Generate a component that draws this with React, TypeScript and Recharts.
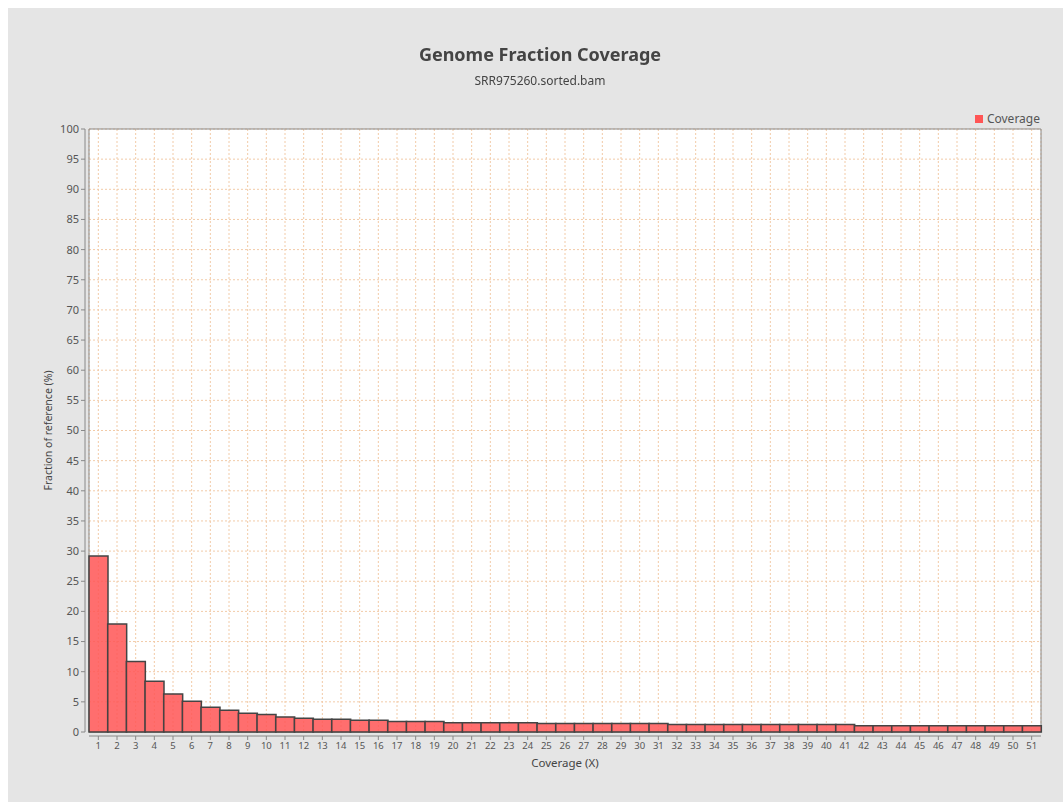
import { BarChart, Bar, XAxis, YAxis, CartesianGrid, Legend, ReferenceArea } from "recharts";

const COVERAGE_X = [
  "1", "2", "3", "4", "5", "6", "7", "8", "9", "10",
  "11", "12", "13", "14", "15", "16", "17", "18", "19", "20",
  "21", "22", "23", "24", "25", "26", "27", "28", "29", "30",
  "31", "32", "33", "34", "35", "36", "37", "38", "39", "40",
  "41", "42", "43", "44", "45", "46", "47", "48", "49", "50", "51",
];

// fraction of reference (%) per coverage depth
const FRACTION = [
  29.2, 17.9, 11.7, 8.4, 6.3, 5.1, 4.1, 3.6, 3.1, 2.9,
  2.5, 2.3, 2.1, 2.1, 1.95, 1.95, 1.75, 1.75, 1.75, 1.55,
  1.55, 1.55, 1.55, 1.55, 1.4, 1.4, 1.4, 1.4, 1.4, 1.4,
  1.4, 1.25, 1.25, 1.25, 1.25, 1.25, 1.25, 1.25, 1.25, 1.25,
  1.25, 1.05, 1.05, 1.05, 1.05, 1.05, 1.05, 1.05, 1.05, 1.05, 1.05,
];

const Y_TICKS = [0, 5, 10, 15, 20, 25, 30, 35, 40, 45, 50, 55, 60, 65, 70, 75, 80, 85, 90, 95, 100];

const FONT = '"Noto Sans", sans-serif';
const AXIS_GRAY = "#888888";
const TICK_TEXT = { fill: "#555555", fontSize: 11, fontFamily: FONT };

export default function App() {
  const data = COVERAGE_X.map((x, i) => ({ x, fraction: FRACTION[i] }));

  const legendFormatter = (value: string) => (
    <span style={{ color: "#555", fontSize: "12px" }}>{value}</span>
  );

  return (
    <div
      style={{
        position: "fixed",
        left: 8,
        top: 8,
        width: 1055,
        height: 794,
        background: "#e5e5e5",
        fontFamily: FONT,
      }}
    >
      <BarChart
        width={1055}
        height={794}
        data={data}
        barCategoryGap={0}
        barGap={0}
        margin={{ top: 121, right: 22, left: 0, bottom: 8 }}
      >
        <CartesianGrid
          fill="#ffffff"
          stroke="#f2cba8"
          strokeDasharray="2 2"
        />
        <XAxis
          dataKey="x"
          interval={0}
          height={62}
          tickSize={4}
          tickMargin={6}
          tick={{ ...TICK_TEXT, fontSize: 9.5 }}
          axisLine={{ stroke: AXIS_GRAY, transform: "translate(0,4)" }}
          tickLine={{ stroke: AXIS_GRAY, transform: "translate(0,4)" }}
          label={{
            value: "Coverage (X)",
            position: "center",
            fill: "#444",
            fontSize: 11.5,
            fontFamily: FONT,
          }}
        />
        <YAxis
          type="number"
          domain={[0, 100]}
          ticks={Y_TICKS}
          interval={0}
          width={81}
          tickSize={4}
          tickMargin={6}
          tick={TICK_TEXT}
          axisLine={{ stroke: AXIS_GRAY, transform: "translate(-4,0)" }}
          tickLine={{ stroke: AXIS_GRAY, transform: "translate(-4,0)" }}
          label={{
            value: "Fraction of reference (%)",
            angle: -90,
            position: "center",
            fill: "#444",
            fontSize: 10.5,
            fontFamily: FONT,
          }}
        />
        <Legend
          layout="horizontal"
          verticalAlign="middle"
          align="center"
          iconType="square"
          iconSize={8}
          formatter={legendFormatter}
          wrapperStyle={{ top: 98, right: 13, left: "auto", width: "auto" }}
        />
        <Bar
          dataKey="fraction"
          name="Coverage"
          fill="#ff5555"
          fillOpacity={0.85}
          stroke="#444444"
          strokeWidth={1.5}
          isAnimationActive={false}
        />
        <ReferenceArea y1={0} y2={100} fill="none" stroke={AXIS_GRAY} strokeWidth={1} />
      </BarChart>
      <div
        style={{
          position: "absolute",
          left: 0,
          top: 34,
          width: 1064,
          textAlign: "center",
          fontSize: 18,
          fontWeight: "bold",
          color: "#444",
          lineHeight: "24px",
          pointerEvents: "none",
        }}
      >
        Genome Fraction Coverage
      </div>
      <div
        style={{
          position: "absolute",
          left: 0,
          top: 65,
          width: 1064,
          textAlign: "center",
          fontSize: 12,
          color: "#444",
          lineHeight: "16px",
          pointerEvents: "none",
        }}
      >
        SRR975260.sorted.bam
      </div>
    </div>
  );
}
